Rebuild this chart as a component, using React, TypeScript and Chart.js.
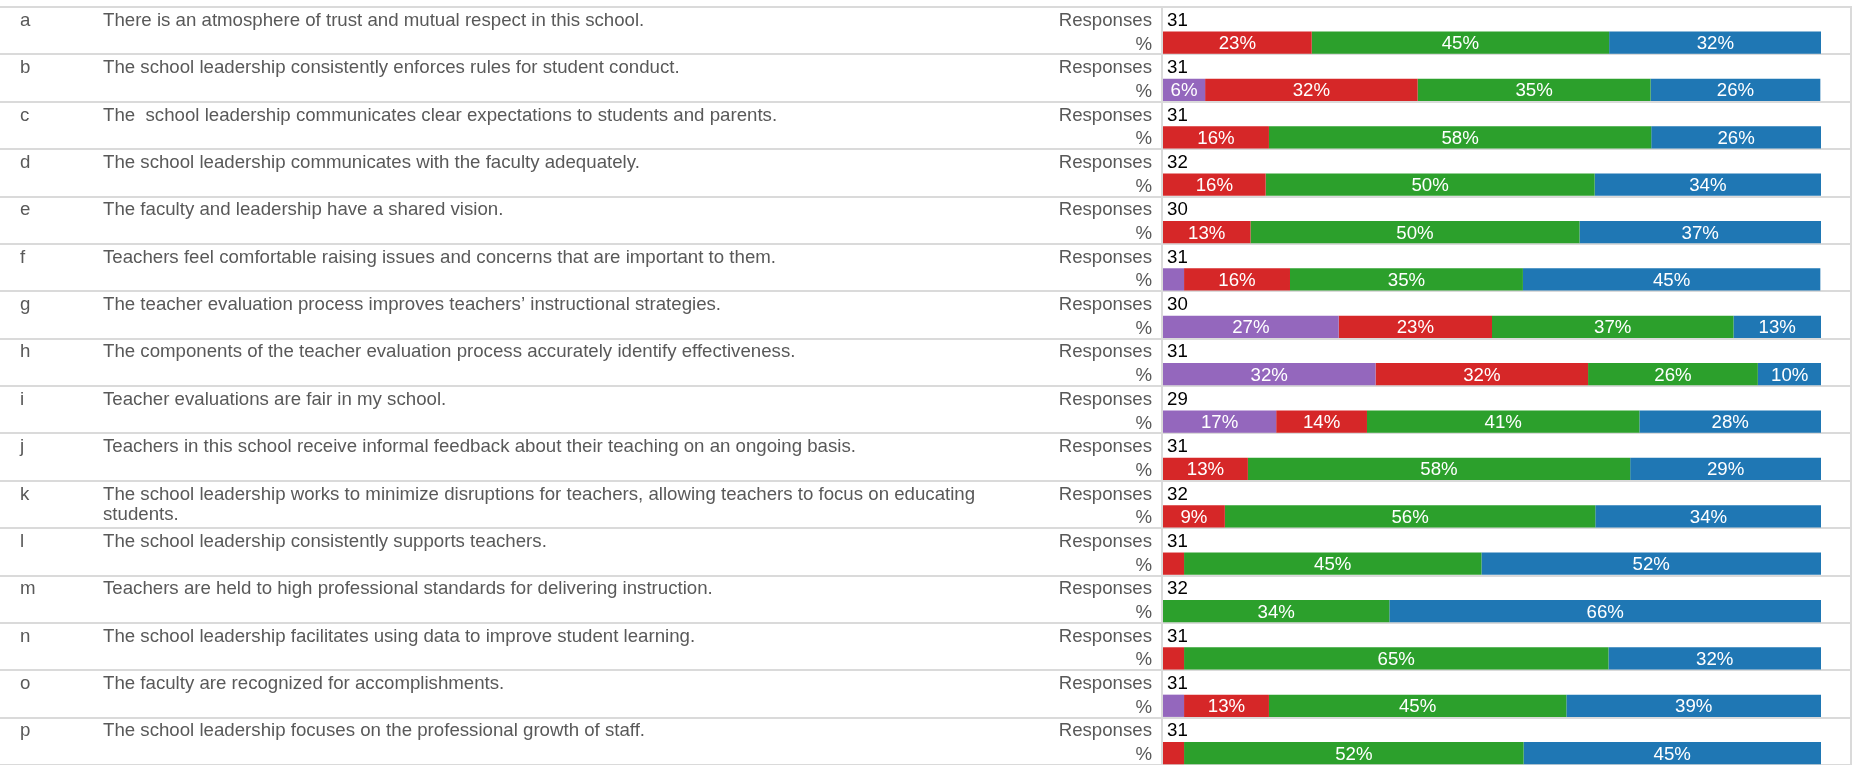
import { useEffect, useRef } from "react";
import { Chart, registerables } from "chart.js";

Chart.register(...registerables);

const letters = ["a", "b", "c", "d", "e", "f", "g", "h", "i", "j", "k", "l", "m", "n", "o", "p"];
const questions = [
  "There is an atmosphere of trust and mutual respect in this school.",
  "The school leadership consistently enforces rules for student conduct.",
  "The  school leadership communicates clear expectations to students and parents.",
  "The school leadership communicates with the faculty adequately.",
  "The faculty and leadership have a shared vision.",
  "Teachers feel comfortable raising issues and concerns that are important to them.",
  "The teacher evaluation process improves teachers\u2019 instructional strategies.",
  "The components of the teacher evaluation process accurately identify effectiveness.",
  "Teacher evaluations are fair in my school.",
  "Teachers in this school receive informal feedback about their teaching on an ongoing basis.",
  "The school leadership works to minimize disruptions for teachers, allowing teachers to focus on educating students.",
  "The school leadership consistently supports teachers.",
  "Teachers are held to high professional standards for delivering instruction.",
  "The school leadership facilitates using data to improve student learning.",
  "The faculty are recognized for accomplishments.",
  "The school leadership focuses on the professional growth of staff.",
];
const responses = [31, 31, 31, 32, 30, 31, 30, 31, 29, 31, 32, 31, 32, 31, 31, 31];
const subRowLabels = ["Responses", "%"];

const stronglyDisagree = [0, 6.4, 0, 0, 0, 3.2, 26.7, 32.3, 17.2, 0, 0, 0, 0, 0, 3.2, 0];
const disagree = [22.6, 32.3, 16.1, 15.6, 13.3, 16.1, 23.3, 32.3, 13.8, 12.9, 9.4, 3.2, 0, 3.2, 12.9, 3.2];
const agree = [45.2, 35.4, 58.1, 50.0, 50.0, 35.4, 36.7, 25.8, 41.4, 58.1, 56.3, 45.2, 34.4, 64.5, 45.2, 51.6];
const stronglyAgree = [32.3, 25.8, 25.8, 34.4, 36.7, 45.2, 13.3, 9.7, 27.6, 29.0, 34.4, 51.6, 65.6, 32.3, 38.7, 45.2];

const seriesNames = ["Strongly Disagree", "Disagree", "Agree", "Strongly Agree"];
const seriesColors = ["#9467bd", "#d62728", "#2ca02c", "#1f77b4"];

const FONT = '"Liberation Sans", Arial, sans-serif';
const FONT_SIZE = 18.67;
const TEXT_GRAY = "#595959";
const LINE_GRAY = "#dadada";

function wrap(ctx: CanvasRenderingContext2D, text: string, maxW: number): string[] {
  const words = text.split(" ");
  const lines: string[] = [];
  let cur = "";
  for (const w of words) {
    const test = cur ? cur + " " + w : w;
    if (ctx.measureText(test).width > maxW && cur) {
      lines.push(cur);
      cur = w;
    } else {
      cur = test;
    }
  }
  if (cur) lines.push(cur);
  return lines;
}

const tablePlugin = {
  id: "tablePlugin",
  beforeDatasetsDraw(chart: any) {
    const { ctx, chartArea, scales } = chart;
    const y = scales.y;
    const rows = letters.length;
    const rowH = (chartArea.bottom - chartArea.top) / rows;
    ctx.save();
    ctx.strokeStyle = LINE_GRAY;
    ctx.lineWidth = 2;
    for (let i = 0; i <= rows; i++) {
      const yy = Math.round(chartArea.top + i * rowH);
      ctx.beginPath();
      ctx.moveTo(0, yy);
      ctx.lineTo(chart.width - 1, yy);
      ctx.stroke();
    }
    ctx.beginPath();
    ctx.moveTo(chartArea.left - 1, chartArea.top);
    ctx.lineTo(chartArea.left - 1, chartArea.bottom);
    ctx.stroke();
    ctx.beginPath();
    ctx.moveTo(chart.width - 2, chartArea.top);
    ctx.lineTo(chart.width - 2, chartArea.bottom);
    ctx.stroke();

    ctx.font = FONT_SIZE + "px " + FONT;
    ctx.textBaseline = "alphabetic";
    const labels = chart.data.labels as string[];
    for (let i = 0; i < rows; i++) {
      const yc = y.getPixelForValue(i * 2) + 7;
      const yp = y.getPixelForValue(i * 2 + 1) + 7;
      ctx.fillStyle = TEXT_GRAY;
      ctx.textAlign = "left";
      ctx.fillText(letters[i], 20, yc);
      const lines = wrap(ctx, questions[i], 900);
      lines.forEach((ln, k) => ctx.fillText(ln, 103, yc + k * 20));
      ctx.textAlign = "right";
      ctx.fillText(labels[i * 2], chartArea.left - 11, yc);
      ctx.fillText(labels[i * 2 + 1], chartArea.left - 11, yp);
      ctx.textAlign = "left";
      ctx.fillStyle = "#000";
      ctx.fillText(String(responses[i]), chartArea.left + 4, yc);
    }
    ctx.restore();
  },
  afterDatasetsDraw(chart: any) {
    const { ctx } = chart;
    ctx.save();
    ctx.font = FONT_SIZE + "px " + FONT;
    ctx.fillStyle = "#fff";
    ctx.textAlign = "center";
    ctx.textBaseline = "alphabetic";
    chart.data.datasets.forEach((ds: any, di: number) => {
      const meta = chart.getDatasetMeta(di);
      meta.data.forEach((el: any, j: number) => {
        const v = ds.data[j];
        if (v == null || v < 5) return;
        const cx = (el.x + el.base) / 2;
        ctx.fillText(Math.round(v) + "%", cx, el.y + 6.5);
      });
    });
    ctx.restore();
  },
};

export default function App() {
  const ref = useRef<HTMLCanvasElement>(null);
  useEffect(() => {
    document.body.style.margin = "0";
    const labels: string[] = letters.flatMap(() => subRowLabels);
    const series = [stronglyDisagree, disagree, agree, stronglyAgree];
    const chart = new Chart(ref.current!, {
      type: "bar",
      data: {
        labels,
        datasets: series.map((arr, si) => ({
          label: seriesNames[si],
          data: arr.flatMap((v) => [null, v]),
          backgroundColor: seriesColors[si],
          borderWidth: 0,
          barPercentage: 0.94,
          categoryPercentage: 1,
        })),
      },
      options: {
        indexAxis: "y",
        responsive: false,
        animation: false,
        devicePixelRatio: 1,
        layout: { padding: { top: 7, bottom: 0, left: 1163, right: 32 } },
        plugins: { legend: { display: false }, tooltip: { enabled: false } },
        scales: {
          x: { type: "linear", stacked: true, min: 0, max: 100, display: false },
          y: { type: "category", stacked: true, display: false },
        },
      } as any,
      plugins: [tablePlugin],
    });
    return () => chart.destroy();
  }, []);
  return (
    <div style={{ position: "absolute", left: 0, top: 0, width: 1853, height: 765 }}>
      <canvas ref={ref} width={1853} height={765} style={{ display: "block" }} />
    </div>
  );
}
